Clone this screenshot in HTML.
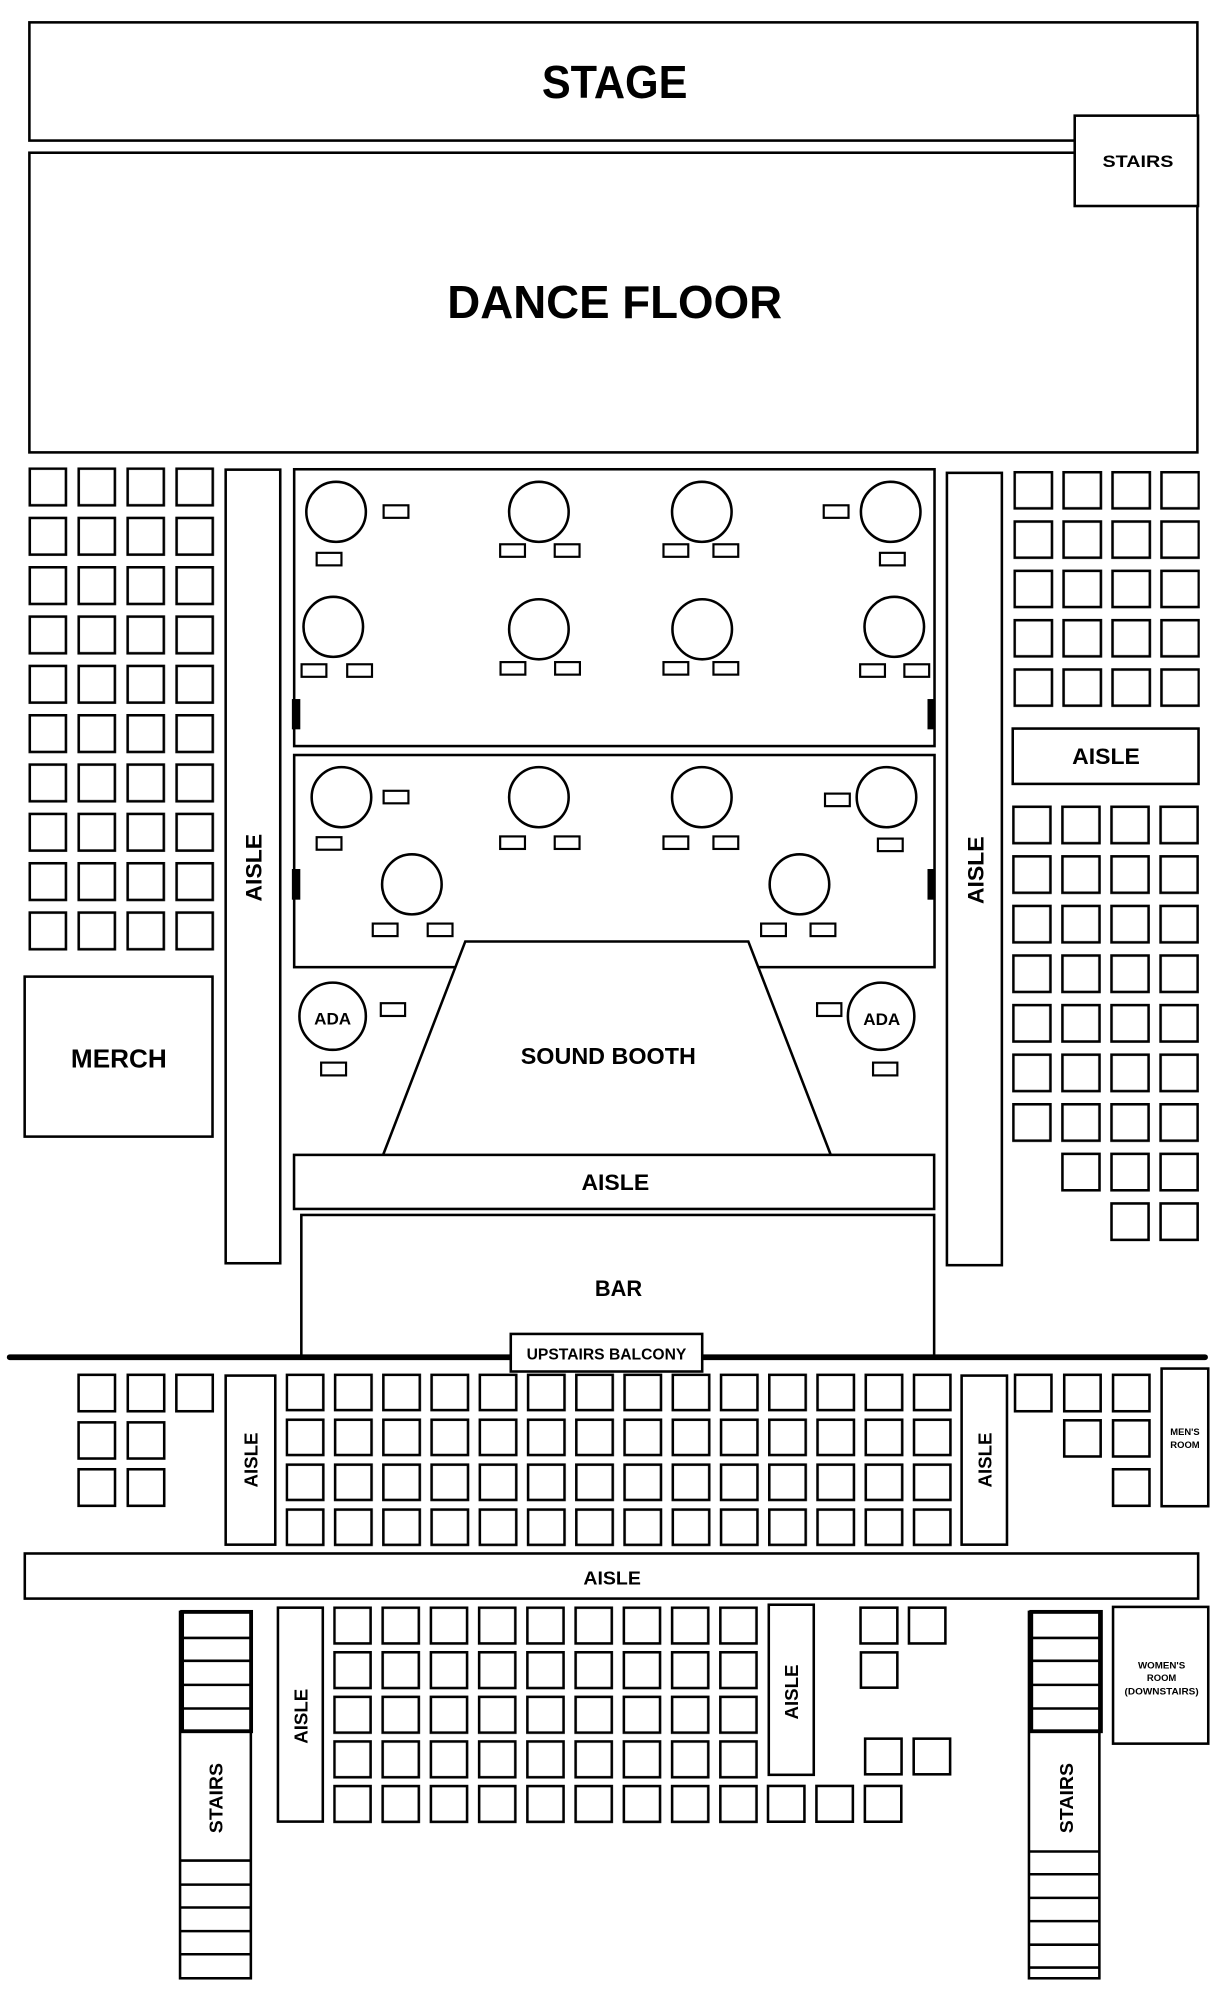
<!DOCTYPE html>
<html><head><meta charset="utf-8"><style>
html,body{margin:0;padding:0;background:#fff;}
svg{display:block;}
text{font-family:"Liberation Sans",sans-serif;font-weight:bold;fill:#000;text-anchor:middle;}
</style></head><body>
<svg width="1214" height="2000" viewBox="0 0 950 1565" preserveAspectRatio="none" xmlns="http://www.w3.org/2000/svg">
<defs>
<pattern id="pL" x="22.3" y="365.7" width="38.3" height="38.6" patternUnits="userSpaceOnUse"><rect x="1" y="1" width="28.3" height="28.7" fill="none" stroke="#000" stroke-width="2"/></pattern>
<pattern id="pR" x="793" y="368.5" width="38.3" height="38.6" patternUnits="userSpaceOnUse"><rect x="1" y="1" width="29.2" height="28.3" fill="none" stroke="#000" stroke-width="2"/></pattern>
<pattern id="pR2" x="792" y="630.3" width="38.4" height="38.8" patternUnits="userSpaceOnUse"><rect x="1" y="1" width="29" height="28.5" fill="none" stroke="#000" stroke-width="2"/></pattern>
<pattern id="pM" x="223.5" y="1074.8" width="37.75" height="35.15" patternUnits="userSpaceOnUse"><rect x="1" y="1" width="28.5" height="27.6" fill="none" stroke="#000" stroke-width="2"/></pattern>
<pattern id="pB" x="260.7" y="1257" width="37.75" height="34.9" patternUnits="userSpaceOnUse"><rect x="1" y="1" width="28.3" height="28" fill="none" stroke="#000" stroke-width="2"/></pattern>
</defs>
<g fill="none" stroke="#000" stroke-width="2">
<rect x="23" y="17.5" width="914" height="92.5"/>
<rect x="23" y="119.5" width="914" height="234.5"/>
<rect x="841" y="90.5" width="96.5" height="70.7" fill="#fff"/>
<rect x="176.6" y="367.5" width="42.7" height="621"/>
<rect x="19.3" y="764.2" width="147" height="125.2"/>
<rect x="741" y="370" width="43" height="620"/>
<rect x="792.5" y="570.1" width="145.4" height="43.3"/>
<rect x="230.2" y="367.2" width="501.1" height="216.6"/>
<rect x="230.2" y="590.8" width="501.1" height="166"/>
<path d="M299.8 903.7 L364.1 736.7 L585.6 736.7 L650.1 903.7" fill="#fff"/>
<rect x="230.1" y="903.7" width="500.9" height="42.3"/>
<rect x="235.8" y="950.7" width="495.2" height="111.3"/>
<ellipse cx="263" cy="400.5" rx="23.3" ry="23.5"/>
<ellipse cx="421.7" cy="400.5" rx="23.3" ry="23.5"/>
<ellipse cx="549.2" cy="400.5" rx="23.3" ry="23.5"/>
<ellipse cx="697" cy="400.5" rx="23.3" ry="23.5"/>
<ellipse cx="260.8" cy="490.5" rx="23.3" ry="23.5"/>
<ellipse cx="421.7" cy="492.4" rx="23.3" ry="23.5"/>
<ellipse cx="549.5" cy="492.4" rx="23.3" ry="23.5"/>
<ellipse cx="699.8" cy="490.5" rx="23.3" ry="23.5"/>
<ellipse cx="267.2" cy="623.8" rx="23.3" ry="23.5"/>
<ellipse cx="421.7" cy="623.8" rx="23.3" ry="23.5"/>
<ellipse cx="549.2" cy="623.8" rx="23.3" ry="23.5"/>
<ellipse cx="693.7" cy="623.8" rx="23.3" ry="23.5"/>
<ellipse cx="322.3" cy="692" rx="23.3" ry="23.5"/>
<ellipse cx="625.6" cy="692" rx="23.3" ry="23.5"/>
<ellipse cx="260.3" cy="795.2" rx="26" ry="26.3"/>
<ellipse cx="689.5" cy="795.2" rx="26" ry="26.3"/>
</g>
<g fill="none" stroke="#000" stroke-width="1.7">
<rect x="300.2" y="395.4" width="19.4" height="9.8"/><rect x="247.8" y="432.6" width="19.4" height="9.8"/>
<rect x="391.4" y="425.9" width="19.4" height="9.8"/><rect x="434.1" y="425.9" width="19.4" height="9.8"/>
<rect x="519.2" y="425.9" width="19.4" height="9.8"/><rect x="558.3" y="425.9" width="19.4" height="9.8"/>
<rect x="644.6" y="395.4" width="19.4" height="9.8"/><rect x="688.6" y="432.6" width="19.4" height="9.8"/>
<rect x="236" y="519.8" width="19.4" height="9.8"/><rect x="271.7" y="519.8" width="19.4" height="9.8"/>
<rect x="391.7" y="518.1" width="19.4" height="9.8"/><rect x="434.4" y="518.1" width="19.4" height="9.8"/>
<rect x="519.2" y="518.1" width="19.4" height="9.8"/><rect x="558.3" y="518.1" width="19.4" height="9.8"/>
<rect x="673.1" y="519.8" width="19.4" height="9.8"/><rect x="707.7" y="519.8" width="19.4" height="9.8"/>
<rect x="300.2" y="618.8" width="19.4" height="9.8"/><rect x="247.8" y="655.1" width="19.4" height="9.8"/>
<rect x="391.4" y="654.5" width="19.4" height="9.8"/><rect x="434.1" y="654.5" width="19.4" height="9.8"/>
<rect x="519.2" y="654.5" width="19.4" height="9.8"/><rect x="558.3" y="654.5" width="19.4" height="9.8"/>
<rect x="645.6" y="621" width="19.4" height="9.8"/><rect x="687" y="656.2" width="19.4" height="9.8"/>
<rect x="291.7" y="722.7" width="19.4" height="9.8"/><rect x="334.7" y="722.7" width="19.4" height="9.8"/>
<rect x="595.6" y="722.7" width="19.4" height="9.8"/><rect x="634.3" y="722.7" width="19.4" height="9.8"/>
<rect x="298" y="785" width="19" height="10"/><rect x="251.3" y="831.5" width="19.5" height="10"/>
<rect x="639.4" y="785" width="19" height="10"/><rect x="683.2" y="831.5" width="19" height="10"/>
</g>
<g fill="#000">
<rect x="228.4" y="547" width="6.6" height="23.7"/><rect x="228.4" y="680" width="6.6" height="24"/>
<rect x="725.8" y="547" width="6.1" height="23.7"/><rect x="725.8" y="680" width="6.1" height="24"/>
</g>
<rect x="22.3" y="365.7" width="145.9" height="378.4" fill="url(#pL)"/>
<rect x="793" y="368.5" width="145.9" height="185.4" fill="url(#pR)"/>
<rect x="792" y="630.3" width="146.2" height="263.8" fill="url(#pR2)"/>
<g fill="none" stroke="#000" stroke-width="2">
<rect x="831.4" y="902.9" width="29" height="28.5"/><rect x="869.8" y="902.9" width="29" height="28.5"/><rect x="908.2" y="902.9" width="29" height="28.5"/>
<rect x="869.8" y="941.7" width="29" height="28.5"/><rect x="908.2" y="941.7" width="29" height="28.5"/>
</g>
<line x1="7.6" y1="1062" x2="943" y2="1062" stroke="#000" stroke-width="4.5" stroke-linecap="round"/>
<rect x="399.7" y="1043.8" width="149.8" height="29.4" fill="#fff" stroke="#000" stroke-width="2"/>
<rect x="223.5" y="1074.8" width="521.75" height="135.45" fill="url(#pM)"/>
<rect x="260.7" y="1257" width="333" height="170.1" fill="url(#pB)"/>
<g fill="none" stroke="#000" stroke-width="2">
<rect x="61.5" y="1075.8" width="28.5" height="28.5"/><rect x="100" y="1075.8" width="28.5" height="28.5"/><rect x="138" y="1075.8" width="28.5" height="28.5"/>
<rect x="61.5" y="1113" width="28.5" height="28.3"/><rect x="100" y="1113" width="28.5" height="28.3"/>
<rect x="61.5" y="1149.7" width="28.5" height="28.6"/><rect x="100" y="1149.7" width="28.5" height="28.6"/>
<rect x="176.6" y="1076.4" width="38.8" height="132.3"/>
<rect x="752.5" y="1076.4" width="35.5" height="132.3"/>
<rect x="794.3" y="1075.8" width="28.5" height="28.5"/><rect x="832.8" y="1075.8" width="28.5" height="28.5"/><rect x="871" y="1075.8" width="28.5" height="28.5"/>
<rect x="832.8" y="1111.4" width="28.5" height="28.3"/><rect x="871" y="1111.4" width="28.5" height="28.3"/>
<rect x="871" y="1149.7" width="28.5" height="28.6"/>
<rect x="909" y="1070.9" width="36.5" height="107.7"/>
<rect x="19.4" y="1215.6" width="918.2" height="35.3"/>
<rect x="217.5" y="1258" width="35.1" height="167.4"/>
<rect x="601.6" y="1255.7" width="35.2" height="133.1"/>
<rect x="601" y="1397.5" width="28.5" height="28"/><rect x="638.9" y="1397.5" width="28.5" height="28"/><rect x="676.8" y="1397.5" width="28.5" height="28"/>
<rect x="673.4" y="1258" width="28.8" height="28"/><rect x="711.3" y="1258" width="28.5" height="28"/>
<rect x="673.7" y="1293" width="28.5" height="27.6"/>
<rect x="677" y="1360.5" width="28.5" height="27.9"/><rect x="715" y="1360.5" width="28.5" height="27.9"/>
<rect x="871" y="1257.4" width="74.5" height="107"/>
<rect x="140.9" y="1261.3" width="55.4" height="286.7"/>
<rect x="142.5" y="1261.3" width="54" height="93.4" stroke-width="3"/>
<line x1="141" y1="1281.7" x2="196" y2="1281.7"/><line x1="141" y1="1299.6" x2="196" y2="1299.6"/><line x1="141" y1="1318.4" x2="196" y2="1318.4"/><line x1="141" y1="1336.9" x2="196" y2="1336.9"/>
<line x1="141" y1="1455.9" x2="196" y2="1455.9"/><line x1="141" y1="1474.7" x2="196" y2="1474.7"/><line x1="141" y1="1492.6" x2="196" y2="1492.6"/><line x1="141" y1="1511.1" x2="196" y2="1511.1"/><line x1="141" y1="1529.2" x2="196" y2="1529.2"/>
<rect x="805.2" y="1261.3" width="55.1" height="286.7"/>
<rect x="807" y="1261.3" width="54.5" height="93.4" stroke-width="3"/>
<line x1="805" y1="1281.7" x2="861" y2="1281.7"/><line x1="805" y1="1299.6" x2="861" y2="1299.6"/><line x1="805" y1="1318.4" x2="861" y2="1318.4"/><line x1="805" y1="1336.9" x2="861" y2="1336.9"/>
<line x1="805" y1="1448.8" x2="860" y2="1448.8"/><line x1="805" y1="1466.6" x2="860" y2="1466.6"/><line x1="805" y1="1485.1" x2="860" y2="1485.1"/><line x1="805" y1="1503.3" x2="860" y2="1503.3"/><line x1="805" y1="1521.7" x2="860" y2="1521.7"/><line x1="805" y1="1539.6" x2="860" y2="1539.6"/>
</g>
<text x="481" y="76.5" font-size="36" textLength="114" lengthAdjust="spacingAndGlyphs">STAGE</text>
<text x="481" y="249" font-size="36" textLength="262" lengthAdjust="spacingAndGlyphs">DANCE FLOOR</text>
<text x="890.5" y="130.8" font-size="13" textLength="55.5" lengthAdjust="spacingAndGlyphs">STAIRS</text>
<text x="93" y="835.2" font-size="20.5" textLength="75" lengthAdjust="spacingAndGlyphs">MERCH</text>
<text x="476" y="832.5" font-size="18" textLength="137" lengthAdjust="spacingAndGlyphs">SOUND BOOTH</text>
<text x="481.5" y="931" font-size="17" textLength="53" lengthAdjust="spacingAndGlyphs">AISLE</text>
<text x="484" y="1014" font-size="17" textLength="37" lengthAdjust="spacingAndGlyphs">BAR</text>
<text x="474.6" y="1063.7" font-size="12.5" textLength="125" lengthAdjust="spacingAndGlyphs">UPSTAIRS BALCONY</text>
<text x="260.3" y="801.7" font-size="13" textLength="29" lengthAdjust="spacingAndGlyphs">ADA</text>
<text x="690" y="802" font-size="13" textLength="29" lengthAdjust="spacingAndGlyphs">ADA</text>
<text x="865.5" y="597.7" font-size="17" textLength="53" lengthAdjust="spacingAndGlyphs">AISLE</text>
<text x="479" y="1239.7" font-size="14.5" textLength="45" lengthAdjust="spacingAndGlyphs">AISLE</text>
<text x="927.3" y="1123" font-size="7" textLength="23" lengthAdjust="spacingAndGlyphs">MEN'S</text>
<text x="927.3" y="1133" font-size="7" textLength="23" lengthAdjust="spacingAndGlyphs">ROOM</text>
<text x="909" y="1305.5" font-size="7" textLength="37" lengthAdjust="spacingAndGlyphs">WOMEN'S</text>
<text x="909" y="1315.5" font-size="7" textLength="23" lengthAdjust="spacingAndGlyphs">ROOM</text>
<text x="909" y="1326" font-size="7" textLength="58" lengthAdjust="spacingAndGlyphs">(DOWNSTAIRS)</text>
<text transform="translate(204.5,679) rotate(-90)" font-size="17" textLength="53" lengthAdjust="spacingAndGlyphs">AISLE</text>
<text transform="translate(769.5,681) rotate(-90)" font-size="17" textLength="53" lengthAdjust="spacingAndGlyphs">AISLE</text>
<text transform="translate(201.5,1142.5) rotate(-90)" font-size="14.5" textLength="43" lengthAdjust="spacingAndGlyphs">AISLE</text>
<text transform="translate(776,1142.5) rotate(-90)" font-size="14.5" textLength="43" lengthAdjust="spacingAndGlyphs">AISLE</text>
<text transform="translate(240.5,1343) rotate(-90)" font-size="14.5" textLength="43" lengthAdjust="spacingAndGlyphs">AISLE</text>
<text transform="translate(624.5,1324) rotate(-90)" font-size="14.5" textLength="43" lengthAdjust="spacingAndGlyphs">AISLE</text>
<text transform="translate(174,1407) rotate(-90)" font-size="14.5" textLength="55" lengthAdjust="spacingAndGlyphs">STAIRS</text>
<text transform="translate(839.5,1407) rotate(-90)" font-size="14.5" textLength="55" lengthAdjust="spacingAndGlyphs">STAIRS</text>
</svg>
</body></html>
